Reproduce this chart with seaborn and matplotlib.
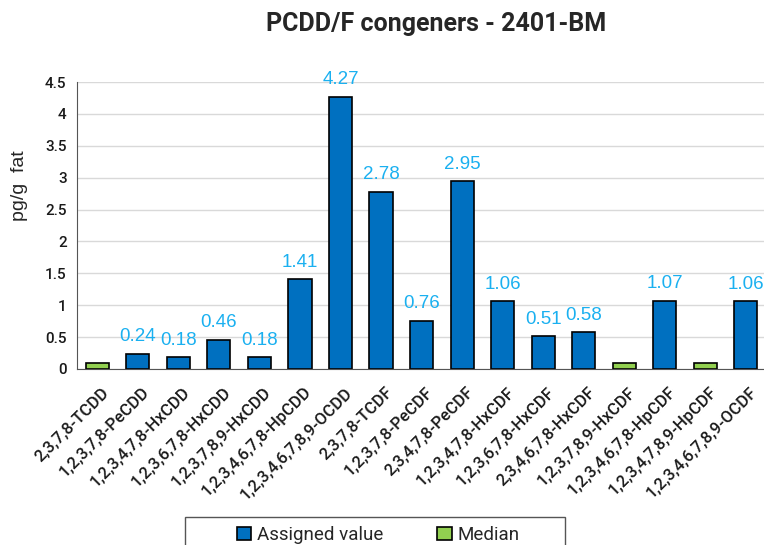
import matplotlib
matplotlib.use("Agg")
import matplotlib.pyplot as plt
import matplotlib.patches as mpatches
import matplotlib.transforms as mtransforms
import numpy as np
import pandas as pd
import seaborn as sns

# congeners in plotting order
congeners = [
    "2,3,7,8-TCDD", "1,2,3,7,8-PeCDD", "1,2,3,4,7,8-HxCDD", "1,2,3,6,7,8-HxCDD",
    "1,2,3,7,8,9-HxCDD", "1,2,3,4,6,7,8-HpCDD", "1,2,3,4,6,7,8,9-OCDD",
    "2,3,7,8-TCDF", "1,2,3,7,8-PeCDF", "2,3,4,7,8-PeCDF", "1,2,3,4,7,8-HxCDF",
    "1,2,3,6,7,8-HxCDF", "2,3,4,6,7,8-HxCDF", "1,2,3,7,8,9-HxCDF",
    "1,2,3,4,6,7,8-HpCDF", "1,2,3,4,7,8,9-HpCDF", "1,2,3,4,6,7,8,9-OCDF",
]
values = [0.09, 0.24, 0.18, 0.46, 0.18, 1.41, 4.27, 2.78, 0.76, 2.95,
          1.06, 0.51, 0.58, 0.09, 1.07, 0.10, 1.06]
value_type = ["Median", "Assigned value", "Assigned value", "Assigned value",
              "Assigned value", "Assigned value", "Assigned value", "Assigned value",
              "Assigned value", "Assigned value", "Assigned value", "Assigned value",
              "Assigned value", "Median", "Assigned value", "Median", "Assigned value"]

df = pd.DataFrame({"congener": congeners, "value": values, "type": value_type})

sns.set_style("white")
plt.rcParams["font.family"] = ["Roboto", "DejaVu Sans"]

fig = plt.figure(figsize=(7.64, 5.45), dpi=100, facecolor="white")
ax = fig.add_axes([0.1008, 0.323, 0.902, 0.5265])

sns.barplot(
    data=df, x="congener", y="value", hue="type", order=congeners,
    hue_order=["Assigned value", "Median"],
    palette={"Assigned value": "#0070C0", "Median": "#92D050"},
    saturation=1, dodge=False, width=0.57, edgecolor="black", linewidth=1.2, ax=ax,
)

# data labels only on assigned values
ax.bar_label(ax.containers[0], fmt="%.2f", padding=6, fontsize=13.5,
             color="#1AB0F0", family="Liberation Sans")

ax.set_ylim(0, 4.5)
ax.set_xlim(-0.5, len(congeners) - 0.5)
ax.set_yticks(np.arange(0, 4.6, 0.5))
ax.set_yticklabels(["0", "0.5", "1", "1.5", "2", "2.5", "3", "3.5", "4", "4.5"],
                   fontweight="medium")
ax.yaxis.grid(True, color="#d9d9d9", linewidth=1)
ax.set_axisbelow(True)
ax.tick_params(axis="y", length=4, labelsize=11, color="#555555", labelcolor="#1a1a1a")

# excel-style ticks between categories
ax.set_xticks(np.arange(-0.5, len(congeners), 1.0), minor=True)
ax.tick_params(axis="x", which="minor", length=5, color="#555555", direction="out")
ax.tick_params(axis="x", which="major", length=0, labelsize=12, pad=11, labelcolor="#1a1a1a")
ax.set_xticks(range(len(congeners)))
ax.set_xticklabels(congeners, rotation=45, ha="right", rotation_mode="anchor",
                   fontweight="medium")
shift = mtransforms.ScaledTranslation(0.035, 0, fig.dpi_scale_trans)
for lbl in ax.get_xticklabels():
    lbl.set_transform(lbl.get_transform() + shift)

for side in ["top", "right"]:
    ax.spines[side].set_visible(False)
ax.spines["left"].set_color("#555555")
ax.spines["bottom"].set_color("#555555")

ax.set_xlabel("")
ax.set_ylabel("pg/g  fat", fontsize=14, family="Liberation Sans")
ax.yaxis.set_label_coords(-0.071, 0.64)

fig.suptitle("PCDD/F congeners - 2401-BM", x=0.571, y=0.978, fontsize=18,
             fontweight="bold")

# legend with an excel-like wide frame
handles, labels = ax.get_legend_handles_labels()
ax.get_legend().remove()
fig.legend(handles, labels, loc="center", bbox_to_anchor=(0.495, 1 - 535 / 545),
           ncol=2, frameon=False, fontsize=13.5, handlelength=0.75,
           handleheight=0.75, handletextpad=0.3, columnspacing=2.9)
fig.patches.append(mpatches.Rectangle(
    (185 / 764, -0.05), 380 / 764, 0.05 + 28 / 545, transform=fig.transFigure,
    facecolor="none", edgecolor="#555555", linewidth=1))

fig.savefig("out.png", dpi=100, facecolor="white")
